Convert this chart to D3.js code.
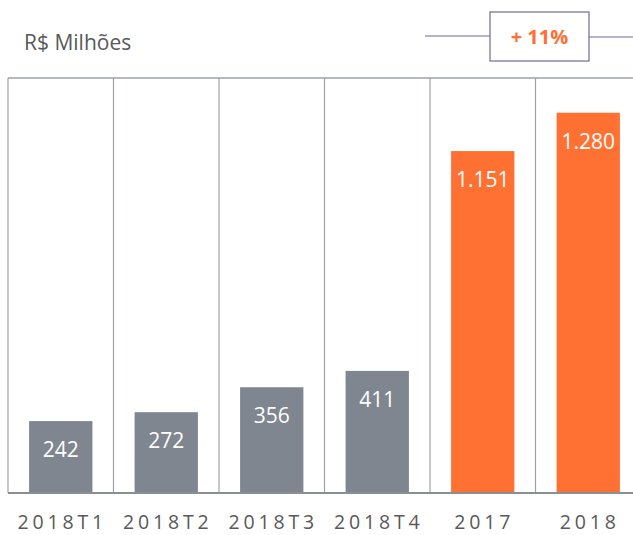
<!DOCTYPE html>
<html>
<head>
<meta charset="utf-8">
<script src="https://cdn.jsdelivr.net/npm/d3@7"></script>
<style>
  body { margin: 0; background: #fff; }
  svg { display: block; font-family: 'Open Sans', 'Noto Sans', sans-serif; }
</style>
</head>
<body>
<div class="container"></div>
<script>
const categories = ['2018T1', '2018T2', '2018T3', '2018T4', '2017', '2018'];
const values = [242, 272, 356, 411, 1151, 1280];
const valueLabels = ['242', '272', '356', '411', '1.151', '1.280'];
const annual = [false, false, false, false, true, true];
const unitLabel = 'R$ Milhões';
const growthLabel = '+ 11%';

const width = 633, height = 535;
const plotTop = 78, plotBottom = 493, plotLeft = 8;

const svg = d3.select('.container')
    .append('svg')
    .attr('width', width)
    .attr('height', height);

const x = d3.scaleBand()
    .domain(categories)
    .range([plotLeft, 641])
    .padding(0);

const y = d3.scaleLinear()
    .domain([0, 1397])
    .range([plotBottom, plotTop]);

const bw = x.bandwidth();

// frame: top line + separators
svg.append('line')
    .attr('x1', plotLeft).attr('x2', width)
    .attr('y1', plotTop).attr('y2', plotTop)
    .attr('stroke', '#9da1a8').attr('stroke-width', 1.5);

svg.append('g')
    .selectAll('line')
    .data(categories)
    .join('line')
    .attr('x1', d => x(d)).attr('x2', d => x(d))
    .attr('y1', plotTop).attr('y2', plotBottom)
    .attr('stroke', '#9da1a8').attr('stroke-width', 1.2);

// bars
svg.append('g')
    .selectAll('rect')
    .data(values)
    .join('rect')
    .attr('x', (d, i) => x(categories[i]) + bw * 0.2)
    .attr('width', bw * 0.6)
    .attr('y', d => y(d))
    .attr('height', d => plotBottom - y(d))
    .attr('fill', (d, i) => annual[i] ? '#ff7133' : '#7f868f');

// value labels
svg.append('g')
    .selectAll('text')
    .data(values)
    .join('text')
    .attr('x', (d, i) => x(categories[i]) + bw / 2)
    .attr('y', d => y(d) + 36)
    .attr('text-anchor', 'middle')
    .attr('fill', '#fff')
    .attr('font-size', 21)
    .text((d, i) => valueLabels[i]);

// baseline
svg.append('line')
    .attr('x1', plotLeft).attr('x2', width)
    .attr('y1', plotBottom).attr('y2', plotBottom)
    .attr('stroke', '#8a8f97').attr('stroke-width', 2);

// category axis labels
svg.append('g')
    .selectAll('text')
    .data(categories)
    .join('text')
    .attr('x', d => x(d) + bw / 2 + 1.5)
    .attr('y', 529)
    .attr('text-anchor', 'middle')
    .attr('fill', '#595959')
    .attr('font-size', 19.5)
    .attr('letter-spacing', 3.8)
    .text(d => d);

// unit
svg.append('text')
    .attr('x', 24).attr('y', 50)
    .attr('fill', '#595959')
    .attr('font-size', 21)
    .text(unitLabel);

// growth box
svg.append('line')
    .attr('x1', 425).attr('x2', 490)
    .attr('y1', 36).attr('y2', 36)
    .attr('stroke', '#6e6a9a').attr('stroke-width', 1);
svg.append('line')
    .attr('x1', 589).attr('x2', width)
    .attr('y1', 37).attr('y2', 37)
    .attr('stroke', '#6e6a9a').attr('stroke-width', 1);
svg.append('rect')
    .attr('x', 490).attr('y', 12)
    .attr('width', 99).attr('height', 49)
    .attr('fill', '#fff')
    .attr('stroke', '#6e6a9a').attr('stroke-width', 1.2);
svg.append('text')
    .attr('x', 539.5).attr('y', 44)
    .attr('text-anchor', 'middle')
    .attr('fill', '#ff7133')
    .attr('font-size', 20)
    .attr('font-weight', 'bold')
    .text(growthLabel);
</script>
</body>
</html>
